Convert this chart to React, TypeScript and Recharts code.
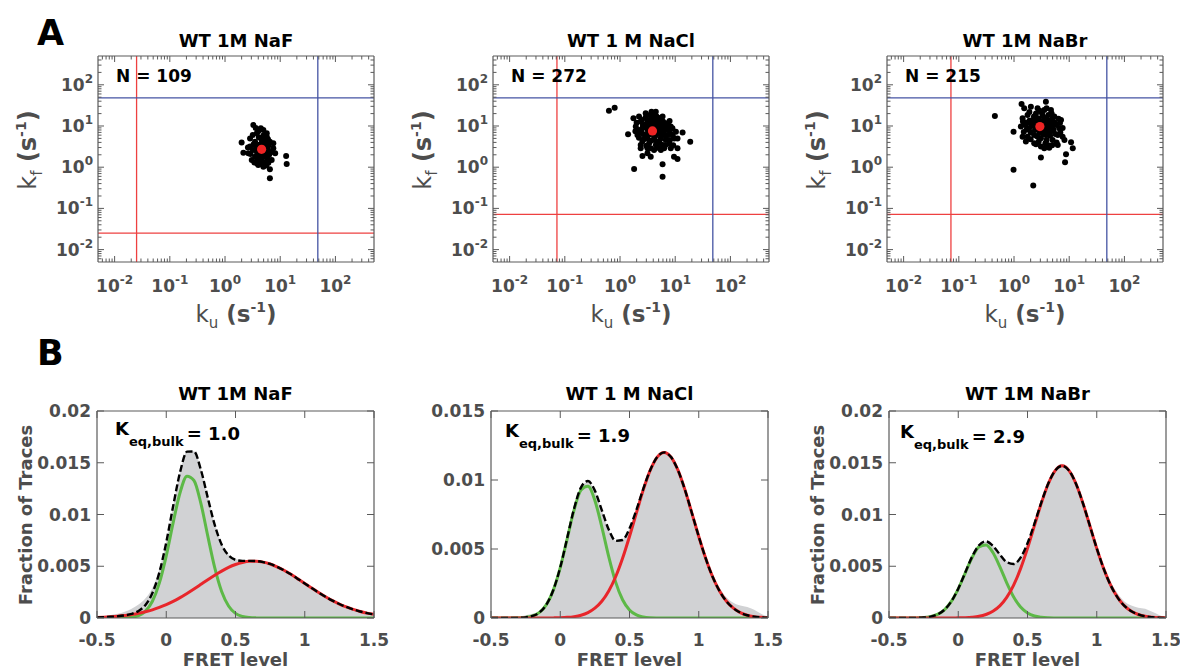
import React from 'react';
import { ScatterChart, Scatter, XAxis, YAxis, ReferenceLine, ComposedChart, Area, Line } from 'recharts';

const FONT = '"DejaVu Sans", "Liberation Sans", Arial, sans-serif';
const AXIS = '#5a5a5a';
const TXT = '#4d4d4d';

// ---------------- Panel A: rate scatter data (ku, kf) ----------------
const naFRates: number[][] = [
  [3.26, 10.6], [4.45, 8.8], [3.76, 6.7], [5.7, 6.7], [3.18, 6.07], [2.0, 3.95], [2.15, 2.25], [2.84, 3.16],
  [7.5, 2.88], [8.1, 2.18], [12.8, 1.87], [13.1, 1.2], [6.5, 0.54], [6.5, 0.89], [3.76, 1.25], [4.95, 1.03],
  [3.05, 1.5], [7.0, 1.5], [4.3, 1.8], [5.3, 4.17], [3.5, 4.17], [2.65, 2.18], [5.7, 2.18], [6.1, 1.29],
  [4.0, 1.13], [4.6, 4.6], [6.5, 4.17], [3.76, 2.38], [5.3, 1.8], [3.5, 1.8], [4.6, 1.5], [7.5, 3.8],
  [2.84, 5.0], [5.7, 5.5], [4.95, 8.0], [4.0, 3.0], [5.5, 3.3], [3.2, 2.6], [6.0, 2.6], [4.8, 2.0],
  [4.2, 2.4], [5.9, 1.6], [3.4, 1.3],
  [4.2, 3.5], [5.0, 3.6], [3.9, 2.0], [5.2, 2.4], [4.6, 3.1], [3.6, 3.3], [6.2, 3.4], [4.4, 1.7],
  [5.1, 1.3], [3.8, 2.8], [4.9, 4.6], [4.1, 5.3], [5.4, 5.0], [3.3, 3.6], [6.3, 2.0], [2.9, 2.1],
  [4.5, 1.2], [5.6, 1.1], [3.9, 1.6], [6.8, 2.3], [4.0, 7.5], [3.6, 9.0], [5.0, 6.0], [6.0, 4.8],
  [2.6, 3.0],
];
const naClRates: number[][] = [
  [0.63, 23.6], [0.8, 27.9], [1.75, 15.4], [3.72, 22.3], [1.4, 6.3], [13.6, 7.0], [18.7, 4.17], [11.0, 2.88],
  [8.3, 2.88], [2.55, 1.88], [3.6, 1.8], [3.14, 2.18], [5.5, 2.62], [9.5, 1.8], [11.0, 1.58], [5.9, 1.18],
  [1.8, 0.9], [5.9, 0.59], [2.37, 3.47], [8.9, 8.8],
  [2.21, 16.9], [2.92, 20.3], [3.87, 18.5], [5.1, 15.4], [6.75, 11.6], [8.3, 9.7], [10.3, 7.3], [9.6, 5.0],
  [7.8, 3.8], [5.9, 3.47], [4.45, 3.47], [3.37, 3.8], [2.54, 4.18], [2.07, 6.07], [1.93, 9.7], [2.37, 12.8],
  [3.14, 14.0], [4.77, 12.8], [6.3, 8.8], [7.24, 6.07], [5.48, 5.0], [4.14, 5.52], [2.92, 6.07], [2.54, 8.8],
  [3.6, 9.7], [5.48, 7.3], [4.77, 4.18], [3.14, 2.88], [6.3, 2.88], [2.37, 2.88], [4.14, 2.62], [6.75, 4.58],
  [11.0, 5.0], [3.14, 5.0], [2.21, 8.0], [5.9, 16.9], [4.45, 22.3], [3.0, 11.0], [4.0, 10.5], [5.0, 10.0],
  [3.5, 7.0], [4.5, 6.0], [6.0, 6.5], [2.7, 4.8], [5.2, 4.0], [7.0, 9.5], [4.2, 14.5],
  [3.9, 7.6], [4.3, 8.2], [3.5, 8.5], [4.8, 7.0], [3.2, 7.8], [4.0, 9.0], [5.4, 8.6], [2.8, 9.3],
  [3.8, 11.8], [4.6, 11.2], [5.6, 10.8], [2.6, 10.5], [3.3, 12.5], [2.4, 7.2], [6.4, 7.8], [7.6, 8.0],
  [4.2, 4.6], [3.6, 4.4], [5.6, 5.8], [2.9, 5.3], [6.8, 5.6], [8.2, 6.6], [5.0, 13.6], [3.7, 15.5],
  [4.6, 17.0], [2.9, 16.0], [6.0, 12.8], [7.4, 11.0], [8.0, 4.6], [2.2, 5.2], [1.9, 7.5], [2.0, 12.0],
  [3.0, 3.3], [4.8, 3.0], [6.6, 3.4], [5.2, 2.9], [9.0, 6.0], [3.4, 6.2], [4.9, 8.9], [6.0, 9.4],
  [3.1, 10.1], [4.4, 12.6], [5.3, 15.5], [7.9, 13.2], [2.5, 14.0], [3.6, 2.9], [9.2, 3.4], [3.5, 18.5],
  [2.6, 6.4], [4.1, 7.0],
];
const naBrRates: number[][] = [
  [0.45, 17.5], [0.98, 7.3], [3.07, 1.71], [0.98, 0.87], [2.23, 0.36], [8.75, 2.06], [11.6, 2.88], [8.4, 1.32],
  [10.8, 4.03], [3.78, 39], [1.37, 34],
  [1.53, 26.9], [2.02, 29.5], [2.67, 26.9], [3.53, 24.5], [4.67, 24.5], [5.37, 16.9], [7.1, 14.0], [6.6, 8.8],
  [6.2, 6.07], [7.6, 5.52], [5.0, 4.58], [4.06, 3.47], [3.07, 3.16], [3.53, 2.88], [4.35, 2.98], [2.32, 3.8],
  [1.64, 4.18], [1.43, 5.52], [1.33, 9.66], [1.43, 15.4], [1.76, 18.5], [2.17, 14.0], [1.88, 8.8], [2.32, 6.07],
  [3.78, 6.07], [4.06, 14.0], [5.0, 9.66], [3.07, 5.04], [1.76, 5.52], [2.67, 15.4], [3.53, 8.0], [2.49, 8.8],
  [6.2, 3.47], [8.2, 4.58], [2.0, 11.5], [3.0, 12.0], [4.0, 11.0], [2.5, 20.0], [3.3, 18.0], [5.5, 12.0],
  [1.6, 12.0], [2.9, 6.8], [4.5, 7.0],
  [2.94, 9.66], [3.3, 10.5], [2.6, 10.8], [3.6, 8.6], [2.4, 8.0], [3.1, 12.8], [4.2, 9.0], [2.1, 10.2],
  [3.8, 13.0], [2.8, 14.5], [1.9, 13.5], [4.6, 11.8], [5.2, 8.0], [4.5, 5.8], [3.4, 6.4], [2.6, 5.6],
  [2.0, 7.0], [1.7, 8.2], [1.6, 10.5], [2.3, 17.0], [3.2, 21.0], [4.2, 18.5], [5.0, 15.0], [5.9, 10.5],
  [6.8, 11.8], [3.9, 4.6], [2.8, 4.2], [2.0, 4.8], [5.6, 6.4], [6.9, 7.0], [1.5, 7.2], [2.4, 12.6],
  [3.5, 15.8], [4.8, 20.0], [1.9, 22.0], [2.9, 23.5], [3.9, 27.0], [5.9, 4.0], [4.9, 3.4], [3.7, 3.8],
  [2.5, 3.6], [7.6, 9.0], [6.4, 15.0], [1.45, 12.8], [3.0, 7.2], [4.0, 7.8],
];
const meanNaF = [[4.6, 2.72]];
const meanNaCl = [[3.87, 7.6]];
const meanNaBr = [[2.94, 9.66]];
const redCutNaF = 0.025;
const redCutNaCl = 0.072;
const redCutNaBr = 0.072;
const blueCut = 48;
const nLabels = ['N = 109', 'N = 272', 'N = 215'];
const titles = ['WT 1M NaF', 'WT 1 M NaCl', 'WT 1M NaBr'];
const kLabels = ['1.0', '1.9', '2.9'];

// ---------------- Panel B: FRET histograms and fits ----------------
const fretLevels = [
  -0.5, -0.45, -0.4, -0.35, -0.3, -0.25, -0.2, -0.15, -0.1, -0.05,
  0, 0.05, 0.1, 0.15, 0.2, 0.25, 0.3, 0.35, 0.4, 0.45,
  0.5, 0.55, 0.6, 0.65, 0.7, 0.75, 0.8, 0.85, 0.9, 0.95,
  1, 1.05, 1.1, 1.15, 1.2, 1.25, 1.3, 1.35, 1.4, 1.45,
  1.5,
];
const Z10 = [0, 0, 0, 0, 0, 0, 0, 0, 0, 0];

const histNaF = [
  0.0001, 0.0002, 0.0003, 0.0004, 0.0006, 0.0009, 0.0013, 0.0019, 0.0029, 0.0047,
  0.0074, 0.0108, 0.0141, 0.0161, 0.0161, 0.0144, 0.0117, 0.0091, 0.0072, 0.0061,
  0.0057, 0.0056, 0.0055, 0.0055, 0.0054, 0.0052, 0.005, 0.0046, 0.0042, 0.0038,
  0.0033, 0.0029, 0.0025, 0.0021, 0.0017, 0.0014, 0.0011, 0.0008, 0.0006, 0.0005,
  0.0004,
];
const greenNaF = [
  0, 0, 0.000001, 0.000004, 0.000019, 0.000072, 0.000237, 0.000668, 0.00162, 0.00337,
  0.00601, 0.00922, 0.01213, 0.0137, 0.01329, 0.01107, 0.00791, 0.00486, 0.00256, 0.00116,
  0.00045, 0.00015, 0.000043, 0.000011, 0.000002, 0, 0, 0, 0, 0,
  ...Z10,
  0,
];
const redNaF = [
  0.000052, 0.000078, 0.000114, 0.000165, 0.000234, 0.000326, 0.000445, 0.000597, 0.000787, 0.00102,
  0.00129, 0.00161, 0.00197, 0.00237, 0.0028, 0.00325, 0.0037, 0.00413, 0.00453, 0.00489,
  0.00517, 0.00537, 0.00548, 0.00549, 0.0054, 0.00522, 0.00495, 0.00461, 0.00422, 0.00378,
  0.00334, 0.00289, 0.00246, 0.00205, 0.00168, 0.00135, 0.00107, 0.00083, 0.00063, 0.00047,
  0.00035,
];
const totalNaF = [
  0.000052, 0.000078, 0.000115, 0.000169, 0.000253, 0.000398, 0.000682, 0.001265, 0.002407, 0.00439,
  0.0073, 0.01083, 0.0141, 0.01607, 0.01609, 0.01432, 0.01161, 0.00899, 0.00709, 0.00605,
  0.00562, 0.00552, 0.00552, 0.0055, 0.0054, 0.00522, 0.00495, 0.00461, 0.00422, 0.00378,
  0.00334, 0.00289, 0.00246, 0.00205, 0.00168, 0.00135, 0.00107, 0.00083, 0.00063, 0.00047,
  0.00035,
];

const histNaCl = [
  0, 0, 0.0001, 0.0001, 0.0001, 0.0002, 0.0003, 0.0005, 0.0011, 0.0021,
  0.0037, 0.0058, 0.0079, 0.0094, 0.0099, 0.0092, 0.0078, 0.0064, 0.0056, 0.0057,
  0.0065, 0.0079, 0.0094, 0.0108, 0.0118, 0.0121, 0.0117, 0.0107, 0.0093, 0.0077,
  0.006, 0.0045, 0.0032, 0.0022, 0.0015, 0.0011, 0.0009, 0.0008, 0.0006, 0.0003,
  0.0001,
];
const greenNaCl = [
  0, 0, 0.000001, 0.000003, 0.000013, 0.000046, 0.000146, 0.000402, 0.000967, 0.00202,
  0.00365, 0.00574, 0.00783, 0.00927, 0.00954, 0.00852, 0.0066, 0.00445, 0.0026, 0.00132,
  0.00058, 0.00022, 0.000074, 0.000021, 0.000005, 0, 0, 0, 0, 0,
  ...Z10,
  0,
];
const redNaCl = [
  0, 0, 0, 0, 0, 0, 0, 0, 0.000003, 0.000009,
  0.00002, 0.000046, 0.0001, 0.0002, 0.00039, 0.00071, 0.00121, 0.00196, 0.00299, 0.00433,
  0.00591, 0.00762, 0.0093, 0.01071, 0.01166, 0.012, 0.01166, 0.01071, 0.0093, 0.00762,
  0.00591, 0.00433, 0.00299, 0.00196, 0.00121, 0.00071, 0.00039, 0.0002, 0.0001, 0.000046,
  0.00002,
];
const totalNaCl = [
  0, 0, 0.000001, 0.000003, 0.000013, 0.000046, 0.000146, 0.000402, 0.00097, 0.00203,
  0.00367, 0.00579, 0.00793, 0.00947, 0.00993, 0.00923, 0.00781, 0.00641, 0.00559, 0.00565,
  0.00649, 0.00784, 0.00937, 0.01073, 0.01166, 0.012, 0.01166, 0.01071, 0.0093, 0.00762,
  0.00591, 0.00433, 0.00299, 0.00196, 0.00121, 0.00071, 0.00039, 0.0002, 0.0001, 0.000046,
  0.00002,
];

const histNaBr = [
  0, 0, 0.0001, 0.0001, 0.0001, 0.0002, 0.0003, 0.0005, 0.0009, 0.0017,
  0.0029, 0.0044, 0.006, 0.0071, 0.0074, 0.007, 0.0062, 0.0055, 0.0053, 0.0059,
  0.0073, 0.0092, 0.0112, 0.0131, 0.0144, 0.0149, 0.0143, 0.0131, 0.0112, 0.009,
  0.0069, 0.005, 0.0035, 0.0024, 0.0016, 0.0012, 0.001, 0.0009, 0.0006, 0.0003,
  0.0001,
];
const greenNaBr = [
  0, 0, 0.000001, 0.000003, 0.000012, 0.000043, 0.000129, 0.000342, 0.000791, 0.0016,
  0.00282, 0.00434, 0.00584, 0.00687, 0.00706, 0.00633, 0.00497, 0.0034, 0.00204, 0.00106,
  0.00049, 0.00019, 0.000068, 0.000021, 0.000006, 0, 0, 0, 0, 0,
  ...Z10,
  0,
];
const redNaBr = [
  0, 0, 0, 0, 0, 0, 0, 0, 0, 0.000005,
  0.000013, 0.000032, 0.000075, 0.00016, 0.00034, 0.00065, 0.00117, 0.00199, 0.00318, 0.00477,
  0.00673, 0.00892, 0.0111, 0.01297, 0.01424, 0.0147, 0.01424, 0.01297, 0.0111, 0.00892,
  0.00673, 0.00477, 0.00318, 0.00199, 0.00117, 0.00065, 0.00034, 0.00016, 0.000075, 0.000032,
  0.000013,
];
const totalNaBr = [
  0, 0, 0.000001, 0.000003, 0.000012, 0.000043, 0.000129, 0.000342, 0.000791, 0.0016,
  0.00283, 0.00437, 0.00592, 0.00703, 0.0074, 0.00698, 0.00614, 0.00539, 0.00522, 0.00583,
  0.00722, 0.00911, 0.01117, 0.01299, 0.01425, 0.0147, 0.01424, 0.01297, 0.0111, 0.00892,
  0.00673, 0.00477, 0.00318, 0.00199, 0.00117, 0.00065, 0.00034, 0.00016, 0.000075, 0.000032,
  0.000013,
];

const fretTicks = [-0.5, 0, 0.5, 1, 1.5];
const yTicks02 = [0, 0.005, 0.01, 0.015, 0.02];
const yTicks015 = [0, 0.005, 0.01, 0.015];

// ---------------- axis helpers ----------------
const LOG_MAJOR = [0.01, 0.1, 1, 10, 100];
const LOG_MINOR = [
  0.006, 0.007, 0.008, 0.009,
  0.02, 0.03, 0.04, 0.05, 0.06, 0.07, 0.08, 0.09,
  0.2, 0.3, 0.4, 0.5, 0.6, 0.7, 0.8, 0.9,
  2, 3, 4, 5, 6, 7, 8, 9,
  20, 30, 40, 50, 60, 70, 80, 90,
  200, 300, 400,
];
const LOG_TICKS = [...LOG_MINOR, ...LOG_MAJOR].sort((a, b) => a - b);
const isMajorLog = (v: number) => LOG_MAJOR.some((m) => Math.abs(v - m) < m * 1e-6);

type Side = 'bottom' | 'top' | 'left' | 'right';

function tickLine(side: Side, x: number, y: number, len: number) {
  let x2 = x, y2 = y;
  if (side === 'bottom') y2 = y - len;
  if (side === 'top') y2 = y + len;
  if (side === 'left') x2 = x + len;
  if (side === 'right') x2 = x - len;
  return <line x1={x} y1={y} x2={x2} y2={y2} stroke={AXIS} strokeWidth={1} />;
}

function makeLogTick(side: Side, withLabel: boolean) {
  return (p: any) => {
    const { x, y, payload } = p;
    const v = payload.value as number;
    const major = isMajorLog(v);
    const exp = String(Math.round(Math.log10(v)));
    let label = null;
    if (withLabel && major) {
      if (side === 'bottom') {
        label = (
          <text x={x} y={y + 30} textAnchor="middle" fontFamily={FONT} fontWeight="bold" fontSize={17} fill={TXT}>
            10<tspan dy={-8} fontSize={12}>{exp}</tspan>
          </text>
        );
      } else if (side === 'left') {
        label = (
          <text x={x - 5} y={y + 6} textAnchor="end" fontFamily={FONT} fontWeight="bold" fontSize={17} fill={TXT}>
            10<tspan dy={-8} fontSize={12}>{exp}</tspan>
          </text>
        );
      }
    }
    return (
      <g>
        {tickLine(side, x, y, major ? 6 : 3.5)}
        {label}
      </g>
    );
  };
}

function makeLinTick(side: Side, withLabel: boolean) {
  return (p: any) => {
    const { x, y, payload } = p;
    const v = payload.value as number;
    let label = null;
    if (withLabel) {
      if (side === 'bottom') {
        label = (
          <text x={x} y={y + 28} textAnchor="middle" fontFamily={FONT} fontWeight="bold" fontSize={17} fill={TXT}>
            {String(v)}
          </text>
        );
      } else if (side === 'left') {
        label = (
          <text x={x - 6} y={y + 6} textAnchor="end" fontFamily={FONT} fontWeight="bold" fontSize={17} fill={TXT}>
            {String(v)}
          </text>
        );
      }
    }
    return (
      <g>
        {tickLine(side, x, y, 7)}
        {label}
      </g>
    );
  };
}

const axisCommon = {
  tickLine: false,
  tickSize: 0,
  tickMargin: 0,
  interval: 0 as const,
  axisLine: { stroke: AXIS, strokeWidth: 1.2 },
  allowDataOverflow: true,
};

// ---------------- Panel A chart ----------------
const A_BOX_W = 276;
const A_BOX_H = 206;
const A_TOP = 56;
const L_M = 90;
const R_M = 24;
const A_H = 300;

function RatePanel({ pts, mean, redCut, left }: { pts: number[][]; mean: number[][]; redCut: number; left: number }) {
  const data = pts.map(([ku, kf]) => ({ ku, kf }));
  const meanData = mean.map(([ku, kf]) => ({ ku, kf }));
  const W = L_M + A_BOX_W + R_M;
  return (
    <div style={{ position: 'absolute', left: left - L_M, top: 0, width: W, height: A_H }}>
      <ScatterChart
        width={W}
        height={A_H}
        margin={{ top: A_TOP - 1, left: L_M - 1, right: R_M - 1, bottom: A_H - A_TOP - A_BOX_H - 1 }}
      >
        <XAxis xAxisId="b" orientation="bottom" type="number" dataKey="ku" scale="log" domain={[0.005, 500]}
          ticks={LOG_TICKS} height={1} tick={makeLogTick('bottom', true)} {...axisCommon} />
        <XAxis xAxisId="t" orientation="top" type="number" dataKey="ku" scale="log" domain={[0.005, 500]}
          ticks={LOG_TICKS} height={1} tick={makeLogTick('top', false)} {...axisCommon} />
        <YAxis yAxisId="l" orientation="left" type="number" dataKey="kf" scale="log" domain={[0.005, 500]}
          ticks={LOG_TICKS} width={1} tick={makeLogTick('left', true)} {...axisCommon} />
        <YAxis yAxisId="r" orientation="right" type="number" dataKey="kf" scale="log" domain={[0.005, 500]}
          ticks={LOG_TICKS} width={1} tick={makeLogTick('right', false)} {...axisCommon} />
        <ReferenceLine xAxisId="b" yAxisId="l" x={redCut} stroke="#ee4040" strokeWidth={1.3} />
        <ReferenceLine xAxisId="b" yAxisId="l" y={redCut} stroke="#ee4040" strokeWidth={1.3} />
        <ReferenceLine xAxisId="b" yAxisId="l" x={blueCut} stroke="#4453a3" strokeWidth={1.3} />
        <ReferenceLine xAxisId="b" yAxisId="l" y={blueCut} stroke="#4453a3" strokeWidth={1.3} />
        <Scatter xAxisId="b" yAxisId="l" data={data} isAnimationActive={false}
          shape={(p: any) => <circle cx={p.cx} cy={p.cy} r={3} fill="#000" />} />
        <Scatter xAxisId="b" yAxisId="l" data={meanData} isAnimationActive={false}
          shape={(p: any) => <circle cx={p.cx} cy={p.cy} r={4.6} fill="#ee2424" />} />
      </ScatterChart>
    </div>
  );
}

// ---------------- Panel B chart ----------------
const B_BOX_W = 277;
const B_BOX_H = 207;
const B_TOP_PAGE = 340;
const B_TOP = 71;
const B_H = 330;

function FretPanel({ hist, green, red, total, yMax, yTicks, left }: {
  hist: number[]; green: number[]; red: number[]; total: number[]; yMax: number; yTicks: number[]; left: number;
}) {
  const rows = fretLevels.map((x, i) => ({ x, hist: hist[i], green: green[i], red: red[i], total: total[i] }));
  const W = L_M + B_BOX_W + R_M;
  return (
    <div style={{ position: 'absolute', left: left - L_M, top: B_TOP_PAGE, width: W, height: B_H }}>
      <ComposedChart
        width={W}
        height={B_H}
        data={rows}
        margin={{ top: B_TOP - 1, left: L_M - 1, right: R_M - 1, bottom: B_H - B_TOP - B_BOX_H - 1 }}
      >
        <XAxis xAxisId="b" orientation="bottom" type="number" dataKey="x" domain={[-0.5, 1.5]}
          ticks={fretTicks} height={1} tick={makeLinTick('bottom', true)} {...axisCommon} />
        <XAxis xAxisId="t" orientation="top" type="number" dataKey="x" domain={[-0.5, 1.5]}
          ticks={fretTicks} height={1} tick={makeLinTick('top', false)} {...axisCommon} />
        <YAxis yAxisId="l" orientation="left" type="number" domain={[0, yMax]}
          ticks={yTicks} width={1} tick={makeLinTick('left', true)} {...axisCommon} />
        <YAxis yAxisId="r" orientation="right" type="number" domain={[0, yMax]}
          ticks={yTicks} width={1} tick={makeLinTick('right', false)} {...axisCommon} />
        <Area xAxisId="b" yAxisId="l" type="monotone" dataKey="hist" fill="#d1d2d4" fillOpacity={1}
          stroke="none" isAnimationActive={false} dot={false} activeDot={false} />
        <Line xAxisId="b" yAxisId="l" type="monotone" dataKey="green" stroke="#5db947" strokeWidth={3}
          dot={false} activeDot={false} isAnimationActive={false} />
        <Line xAxisId="b" yAxisId="l" type="monotone" dataKey="red" stroke="#e8262b" strokeWidth={3}
          dot={false} activeDot={false} isAnimationActive={false} />
        <Line xAxisId="b" yAxisId="l" type="monotone" dataKey="total" stroke="#000" strokeWidth={2.4}
          strokeDasharray="7 3" dot={false} activeDot={false} isAnimationActive={false} />
      </ComposedChart>
    </div>
  );
}

// ---------------- text overlay ----------------
const A_LEFTS = [98, 493, 887];
const B_LEFTS = [97, 491, 889];

function RateYLabel({ x, y }: { x: number; y: number }) {
  return (
    <text transform={`translate(${x},${y}) rotate(-90)`} textAnchor="middle" fontFamily={FONT} fontSize={24} fill={TXT}>
      k<tspan dy={6} fontSize={15}>f</tspan>
      <tspan dy={-6} fontWeight="bold"> (s</tspan>
      <tspan dy={-10} fontSize={14} fontWeight="bold">-1</tspan>
      <tspan dy={10} fontWeight="bold">)</tspan>
    </text>
  );
}

function RateXLabel({ x, y }: { x: number; y: number }) {
  return (
    <text x={x} y={y} textAnchor="middle" fontFamily={FONT} fontSize={23} fill={TXT}>
      k<tspan dy={6} fontSize={15}>u</tspan>
      <tspan dy={-6} fontWeight="bold"> (s</tspan>
      <tspan dy={-10} fontSize={14} fontWeight="bold">-1</tspan>
      <tspan dy={10} fontWeight="bold">)</tspan>
    </text>
  );
}

function Overlay() {
  const kPos = [
    [115, 435],
    [505, 437],
    [900, 438],
  ];
  return (
    <svg width={1180} height={670} style={{ position: 'absolute', left: 0, top: 0, pointerEvents: 'none' }}>
      <text x={37} y={45} fontFamily={FONT} fontWeight="bold" fontSize={35} fill="#000">A</text>
      <text x={37} y={365} fontFamily={FONT} fontWeight="bold" fontSize={35} fill="#000">B</text>
      {A_LEFTS.map((l, i) => (
        <g key={'a' + i}>
          <text x={l + A_BOX_W / 2} y={47} textAnchor="middle" fontFamily={FONT} fontWeight="bold" fontSize={18} fill="#000">
            {titles[i]}
          </text>
          <text x={l + 18} y={82} fontFamily={FONT} fontWeight="bold" fontSize={17} fill="#000">{nLabels[i]}</text>
          <RateXLabel x={l + A_BOX_W / 2} y={322} />
          <RateYLabel x={l - 62} y={150} />
        </g>
      ))}
      {B_LEFTS.map((l, i) => (
        <g key={'b' + i}>
          <text x={l + B_BOX_W / 2} y={400} textAnchor="middle" fontFamily={FONT} fontWeight="bold" fontSize={18} fill="#000">
            {titles[i]}
          </text>
          <text x={kPos[i][0]} y={kPos[i][1]} fontFamily={FONT} fontWeight="bold" fontSize={18} fill="#000">
            K<tspan dy={11} fontSize={13}>eq,bulk</tspan>
            <tspan dy={-6} dx={3}>= {kLabels[i]}</tspan>
          </text>
          <text x={l + B_BOX_W / 2} y={666} textAnchor="middle" fontFamily={FONT} fontWeight="bold" fontSize={18} fill={TXT}>
            FRET level
          </text>
          {i !== 1 && (
            <text transform={`translate(${l - 65},515) rotate(-90)`} textAnchor="middle" fontFamily={FONT}
              fontWeight="bold" fontSize={18} fill={TXT}>
              Fraction of Traces
            </text>
          )}
        </g>
      ))}
    </svg>
  );
}

export default function App() {
  return (
    <div style={{ position: 'absolute', left: 0, top: 0, width: 1180, height: 670, background: '#fff', overflow: 'hidden' }}>
      <RatePanel pts={naFRates} mean={meanNaF} redCut={redCutNaF} left={A_LEFTS[0]} />
      <RatePanel pts={naClRates} mean={meanNaCl} redCut={redCutNaCl} left={A_LEFTS[1]} />
      <RatePanel pts={naBrRates} mean={meanNaBr} redCut={redCutNaBr} left={A_LEFTS[2]} />
      <FretPanel hist={histNaF} green={greenNaF} red={redNaF} total={totalNaF} yMax={0.02} yTicks={yTicks02} left={B_LEFTS[0]} />
      <FretPanel hist={histNaCl} green={greenNaCl} red={redNaCl} total={totalNaCl} yMax={0.015} yTicks={yTicks015} left={B_LEFTS[1]} />
      <FretPanel hist={histNaBr} green={greenNaBr} red={redNaBr} total={totalNaBr} yMax={0.02} yTicks={yTicks02} left={B_LEFTS[2]} />
      <Overlay />
    </div>
  );
}
